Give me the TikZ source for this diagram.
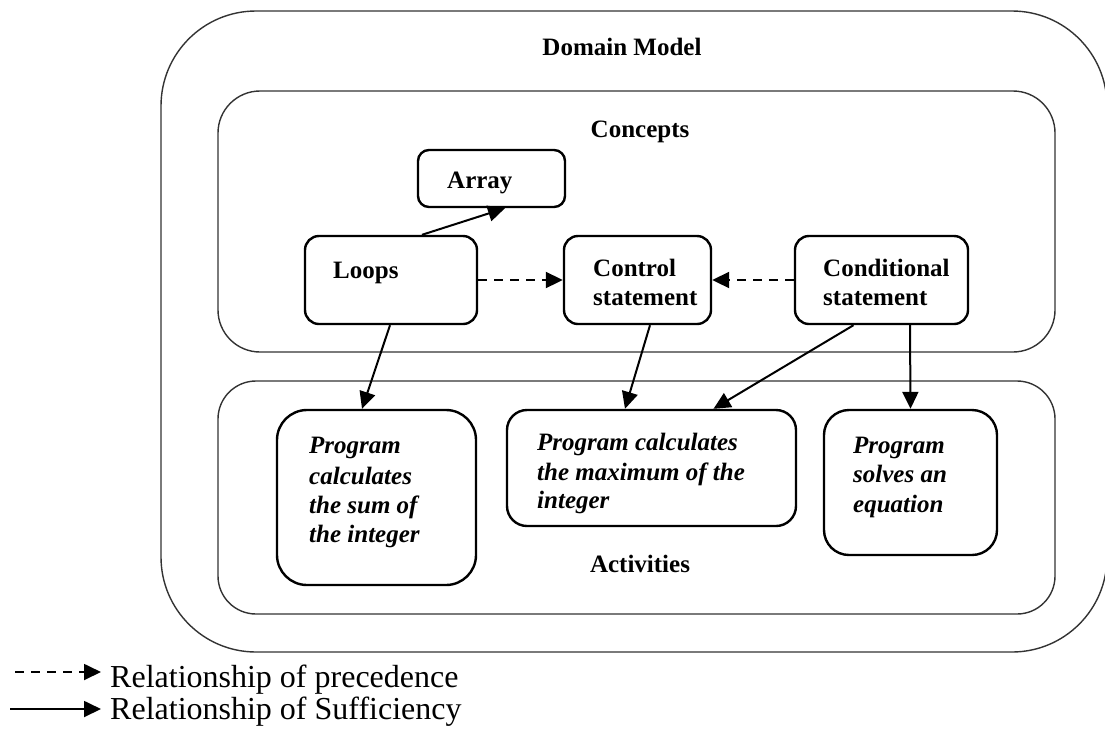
\documentclass[tikz,border=0pt]{standalone}
\usepackage{fontspec}
\setmainfont{Liberation Serif}
\usetikzlibrary{arrows.meta,calc}
\begin{document}
\begin{tikzpicture}[x=1pt,y=-1pt,
  frame/.style={draw=black!80,line width=1.4pt},
  box/.style={draw,line width=2.4pt,inner sep=0pt,rounded corners=#1},
  box/.default=14pt,
  lbl/.style={anchor=base west,inner sep=0pt,font=\fontsize{25}{30}\selectfont\bfseries},
  ilbl/.style={anchor=base west,inner sep=0pt,font=\fontsize{25}{30}\selectfont\bfseries\itshape},
  title/.style={anchor=base,inner sep=0pt,font=\fontsize{25}{30}\selectfont\bfseries},
  legtxt/.style={anchor=base west,inner sep=0pt,font=\fontsize{32}{36}\selectfont},
  suff/.style={line width=2pt,-{Triangle[length=17pt,width=16pt]}},
  prec/.style={line width=2pt,dash pattern=on 9pt off 7pt,-{Triangle[length=17pt,width=16pt]}}
]
\clip (0,0) rectangle (1105,729);
\fill[white] (0,0) rectangle (1105,729);
% frames
\draw[frame,rounded corners=95pt] (161,11) rectangle (1107,652);
\draw[frame,rounded corners=42pt] (218,91) rectangle (1055,352);
\draw[frame,rounded corners=38pt] (218,381) rectangle (1055,614);
\node[title] (tdom) at (622,55) {Domain Model};
\node[title] (tcon) at (640,137) {Concepts};
\node[title] (tact) at (640,572) {Activities};
% concept boxes
\node[box=11pt,minimum width=147pt,minimum height=57pt] (array) at (491.5,178.5) {};
\node[box,minimum width=172pt,minimum height=88pt] (loops) at (391,280) {};
\node[box,minimum width=147pt,minimum height=88pt] (ctrl) at (637.5,280) {};
\node[box,minimum width=173pt,minimum height=88pt] (cond) at (881.5,280) {};
\node[lbl] (tarray) at (447,188) {Array};
\node[lbl] (tloops) at (333,278) {Loops};
\node[lbl] (tctrl1) at (593,276) {Control};
\node[lbl] (tctrl2) at (593,305) {statement};
\node[lbl] (tcond1) at (823,276) {Conditional};
\node[lbl] (tcond2) at (823,305) {statement};
% activity boxes
\node[box=30pt,minimum width=199pt,minimum height=175pt] (sum) at (376.5,497.5) {};
\node[box=20pt,minimum width=289pt,minimum height=116pt] (max) at (651.5,468) {};
\node[box=25pt,minimum width=173pt,minimum height=145pt] (solve) at (910.5,482.5) {};
\node[ilbl] (ts1) at (309,453) {Program};
\node[ilbl] (ts2) at (309,484) {calculates};
\node[ilbl] (ts3) at (309,513) {the sum of};
\node[ilbl] (ts4) at (309,542) {the integer};
\node[ilbl] (tm1) at (537,450) {Program calculates};
\node[ilbl] (tm2) at (537,480) {the maximum of the};
\node[ilbl] (tm3) at (537,508) {integer};
\node[ilbl] (tv1) at (853,453) {Program};
\node[ilbl] (tv2) at (853,482) {solves an};
\node[ilbl] (tv3) at (853,512) {equation};
% connectors
\draw[suff] ([xshift=31pt]loops.north) -- ([xshift=13.5pt]array.south);
\draw[prec] (loops.east) -- (ctrl.west);
\draw[prec] (cond.west) -- (ctrl.east);
\draw[suff] ([xshift=-1pt]loops.south) -- ([xshift=-14.5pt]sum.north);
\draw[suff] ([xshift=12.5pt]ctrl.south) -- ([xshift=-26.5pt]max.north);
\draw[suff] ([xshift=-28pt]cond.south) -- ([xshift=62pt]max.north);
\draw[suff] ([xshift=28.5pt]cond.south) -- (solve.north);
% legend
\coordinate (la1) at (15,672);
\coordinate (lb1) at (101,672);
\coordinate (la2) at (10,709);
\coordinate (lb2) at (101,709);
\draw[prec,line width=1.8pt] (la1) -- (lb1);
\draw[suff,line width=1.8pt] (la2) -- (lb2);
\node[legtxt] (lt1) at (110,687) {Relationship of precedence};
\node[legtxt] (lt2) at (110,719) {Relationship of Sufficiency};
\end{tikzpicture}
\end{document}
